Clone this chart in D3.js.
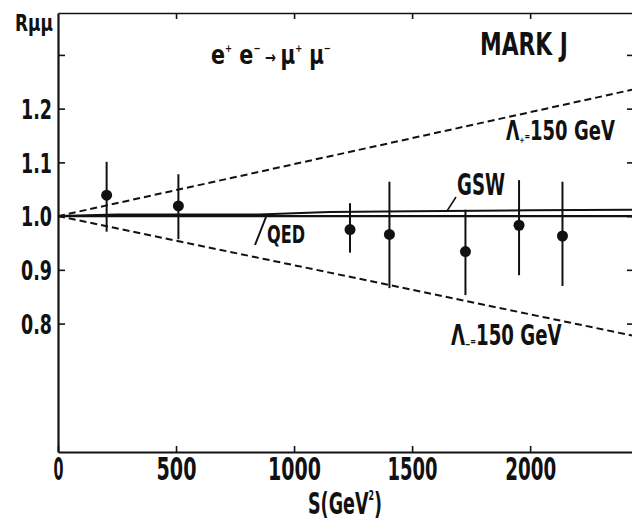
<!DOCTYPE html>
<html><head><meta charset="utf-8">
<script src="https://cdn.jsdelivr.net/npm/d3@7"></script>
<style>
body{margin:0;background:#fff;}
text{font-family:"DejaVu Sans","Liberation Sans",sans-serif;font-weight:bold;fill:#111;}
</style></head>
<body><svg id="c" width="632" height="523"></svg>
<script>
// ---- data ----
const sValues  = [206, 510, 1237, 1404, 1726, 1953, 2137];          // S (GeV^2)
const rValues  = [1.039, 1.019, 0.975, 0.966, 0.934, 0.983, 0.963]; // R_mumu
const errLow   = [0.971, 0.957, 0.932, 0.866, 0.853, 0.890, 0.870];
const errHigh  = [1.101, 1.078, 1.024, 1.064, 1.012, 1.067, 1.064];
const qedS = [0, 2440];           const qedR = [1.0, 1.0];
const gswS = [0, 250, 850, 1150, 1500, 2000, 2440];
const gswR = [1.0, 1.003, 1.003, 1.0075, 1.009, 1.011, 1.012];
const lamPlusS  = [0, 2440];      const lamPlusR  = [1.0, 1.236];
const lamMinusS = [0, 2440];      const lamMinusR = [1.0, 0.777];
const xTicks = [0, 500, 1000, 1500, 2000];
const xTickWidths = [10, 40, 53, 50, 51];
const yTicks = [0.8, 0.9, 1.0, 1.1, 1.2, 1.3];
const yTickLabels = ["0.8", "0.9", "1.0", "1.1", "1.2", ""];

const svg = d3.select("#c");
const x = d3.scaleLinear().domain([0, 2440]).range([58, 634]);
const y = d3.scaleLinear().domain([0.561, 1.378]).range([452, 13]);

// axes
const gL = svg.append("g").attr("transform", "translate(58,0)")
  .call(d3.axisLeft(y).tickValues(yTicks).tickSize(-7).tickSizeOuter(0).tickPadding(6)
    .tickFormat((d, i) => yTickLabels[i]));
gL.selectAll("text").attr("font-size", 27).attr("dy", "0.36em")
  .attr("textLength", 31).attr("lengthAdjust", "spacingAndGlyphs");
gL.select(".domain").attr("stroke-width", 2.2);

const gB = svg.append("g").attr("transform", "translate(0,452)")
  .call(d3.axisBottom(x).tickValues(xTicks).tickSize(-6).tickSizeOuter(0).tickPadding(5)
    .tickFormat(d3.format("d")));
gB.selectAll("text").attr("font-size", 32)
  .attr("textLength", (d, i) => xTickWidths[i]).attr("lengthAdjust", "spacingAndGlyphs");
gB.select(".domain").attr("stroke-width", 2.2);

const gT = svg.append("g").attr("transform", "translate(0,13)")
  .call(d3.axisTop(x).tickValues(xTicks.slice(1)).tickSize(-6).tickSizeOuter(0).tickFormat(""));
gT.select(".domain").attr("stroke-width", 1.6);

const gR = svg.append("g").attr("transform", "translate(633,0)")
  .call(d3.axisRight(y).tickValues(yTicks).tickSize(-6).tickSizeOuter(0).tickFormat(""));
gR.select(".domain").attr("stroke-width", 1.6);
svg.selectAll(".tick line").attr("stroke-width", 1.6).attr("stroke", "#111");
svg.selectAll(".domain").attr("stroke", "#111");
svg.selectAll(".tick text").attr("font-family", null);

// curves
const line = d3.line().x(d => x(d[0])).y(d => y(d[1]));
const zip = (a, b) => a.map((v, i) => [v, b[i]]);
svg.append("path").attr("d", line(zip(qedS, qedR))).attr("fill", "none")
  .attr("stroke", "#111").attr("stroke-width", 2.2);
svg.append("path").attr("d", line(zip(gswS, gswR))).attr("fill", "none")
  .attr("stroke", "#111").attr("stroke-width", 2);
[[lamPlusS, lamPlusR], [lamMinusS, lamMinusR]].forEach(([s, r]) => {
  svg.append("path").attr("d", line(zip(s, r))).attr("fill", "none")
    .attr("stroke", "#111").attr("stroke-width", 2).attr("stroke-dasharray", "7,4");
});

// error bars and points
const pts = sValues.map((s, i) => ({s, r: rValues[i], lo: errLow[i], hi: errHigh[i]}));
svg.append("g").selectAll("line").data(pts).join("line")
  .attr("x1", d => x(d.s)).attr("x2", d => x(d.s))
  .attr("y1", d => y(d.lo)).attr("y2", d => y(d.hi))
  .attr("stroke", "#111").attr("stroke-width", 2);
svg.append("g").selectAll("circle").data(pts).join("circle")
  .attr("cx", d => x(d.s)).attr("cy", d => y(d.r)).attr("r", 5.5).attr("fill", "#111");

// text helper: parts = [[text, fontSize, dy]], fitted to width w starting at x0 on baseline y0
function fit(parts, x0, y0, w) {
  const t = svg.append("text").attr("x", 0).attr("y", 0);
  parts.forEach(([s, size, dy]) => {
    t.append("tspan").attr("font-size", size).attr("dy", dy || 0).text(s);
  });
  const bb = t.node().getBBox();
  const sx = w / bb.width;
  t.attr("transform", `translate(${x0 - bb.x * sx},${y0}) scale(${sx},1)`);
  return t;
}
// axis titles
fit([["Rμμ", 23]], 15, 31, 38);
fit([["S(GeV", 31], ["2", 14, -14], [")", 31, 14]], 308, 514, 74);

// reaction
fit([["e", 27], ["+", 11, -12], [" e", 27, 12], ["−", 11, -12], [" → ", 17, 11],
     ["μ", 26, 1], ["+", 11, -12], ["   μ", 26, 12], ["−", 11, -12]], 211, 64, 120);
fit([["MARK  J", 32]], 480, 55, 88);

// curve labels
fit([["GSW", 30]], 457, 195, 48);
svg.append("line").attr("x1", 447).attr("y1", 211).attr("x2", 456).attr("y2", 197)
  .attr("stroke", "#111").attr("stroke-width", 1.5);
fit([["QED", 24]], 267, 243, 38);
svg.append("line").attr("x1", 255).attr("y1", 245).attr("x2", 266).attr("y2", 217)
  .attr("stroke", "#111").attr("stroke-width", 2);

// lambda labels
fit([["Λ", 26], ["+", 9, 3], ["=", 10, -3], ["150 GeV", 27]], 506, 140, 109);
fit([["Λ", 29], ["−", 10, 3], ["=", 11, -3], ["150 GeV", 29]], 451, 345, 111);
</script></body></html>
